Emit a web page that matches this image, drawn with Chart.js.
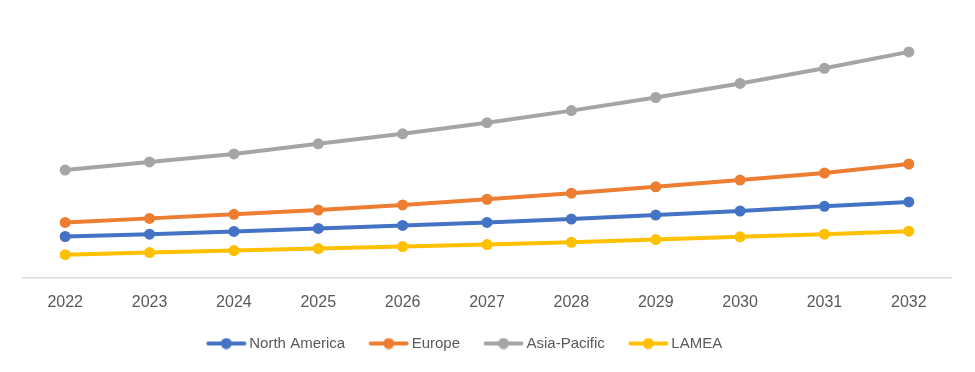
<!DOCTYPE html>
<html>
<head>
<meta charset="utf-8">
<script src="https://cdn.jsdelivr.net/npm/chart.js@4"></script>
<style>
html,body{margin:0;padding:0;background:#fff;}
#wrap{width:975px;height:372px;}
</style>
</head>
<body>
<div id="wrap"><canvas id="c" width="975" height="372"></canvas></div>
<script>
const categories = ['2022','2023','2024','2025','2026','2027','2028','2029','2030','2031','2032'];
const northAmerica = [41, 43.3, 46, 49, 52, 55, 58.3, 62.3, 66.3, 71, 75.3];
const europe = [55, 59, 63, 67.3, 72.3, 78, 84, 90.3, 97, 104, 113];
const asiaPacific = [107, 115, 123, 133, 143, 154, 166, 179, 193, 208, 224.3];
const lamea = [23, 25, 27, 29, 31, 33, 35.3, 38, 40.7, 43.3, 46.3];
const seriesNames = ['North America', 'Europe', 'Asia-Pacific', 'LAMEA'];
const seriesColors = ['#4472C4', '#ED7D31', '#A5A5A5', '#FFC000'];
const seriesValues = [northAmerica, europe, asiaPacific, lamea];

// legend icon: transparent left margin, then a line with a dot in the middle
function legendIcon(color){
  const cv = document.createElement('canvas');
  cv.width = 60; cv.height = 12;
  const g = cv.getContext('2d');
  g.strokeStyle = color; g.lineWidth = 4; g.lineCap = 'round';
  g.beginPath(); g.moveTo(21.5,6); g.lineTo(57.5,6); g.stroke();
  g.fillStyle = color; g.beginPath(); g.arc(39.5,6,5.5,0,Math.PI*2); g.fill();
  return cv;
}
const icons = seriesColors.map(legendIcon);

const datasets = seriesNames.map((n,i)=>({
  label: n,
  data: seriesValues[i],
  borderColor: seriesColors[i],
  backgroundColor: seriesColors[i],
  borderWidth: 4,
  pointRadius: 5.5,
  pointHoverRadius: 5.5,
  pointBorderWidth: 0,
  tension: 0,
  pointStyle: 'circle'
}));

const shiftLegend = {
  id: 'shiftLegend',
  afterLayout(chart){
    if (chart.legend){ chart.legend.left -= 30; chart.legend.right -= 30; }
  }
};

new Chart(document.getElementById('c'), {
  type: 'line',
  data: { labels: categories, datasets },
  plugins: [shiftLegend],
  options: {
    responsive: false,
    animation: false,
    devicePixelRatio: 1,
    layout: { padding: { left: 23, right: 24, top: 26, bottom: 11 } },
    scales: {
      x: {
        offset: true,
        grid: { display: false, drawTicks: false },
        border: { display: true, color: '#D9D9D9', width: 1.5 },
        ticks: { color: '#595959', font: { family: 'Liberation Sans', size: 16 }, padding: 15 }
      },
      y: { display: false, min: 0, max: 250 }
    },
    plugins: {
      tooltip: { enabled: false },
      legend: {
        position: 'bottom',
        labels: {
          color: '#595959',
          font: { family: 'Liberation Sans', size: 15 },
          usePointStyle: true,
          pointStyleWidth: 50,
          boxHeight: 12,
          padding: 9,
          generateLabels: (chart) => seriesNames.map((n,i)=>({
            text: n, pointStyle: icons[i], fillStyle: seriesColors[i], strokeStyle: seriesColors[i],
            lineWidth: 0, hidden: false, datasetIndex: i, fontColor: '#595959'
          }))
        }
      }
    }
  }
});
</script>
</body>
</html>
